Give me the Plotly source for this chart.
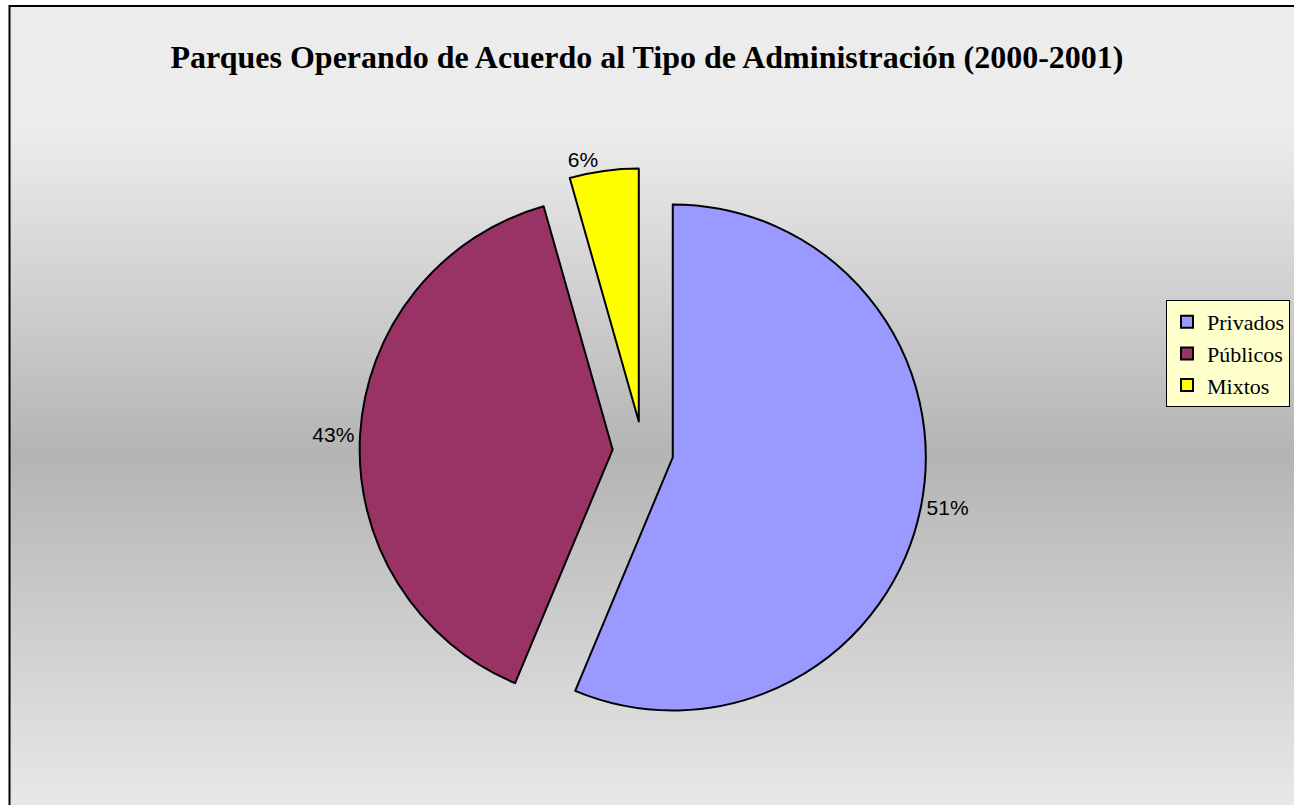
import plotly.graph_objects as go

# datos
tipos = ["Privados", "Públicos", "Mixtos"]
valores = [56.3, 39.3, 4.4]
etiquetas = ["51%", "43%", "6%"]
colores = ["#9999FF", "#993366", "#FFFF00"]

W, H = 1294, 805

fig = go.Figure()

fig.add_trace(go.Pie(
    labels=tipos,
    values=valores,
    text=etiquetas,
    textinfo="text",
    textposition="outside",
    textfont=dict(family="Liberation Sans, Arial", size=21, color="black"),
    marker=dict(colors=colores, line=dict(color="black", width=2)),
    pull=[0.12, 0.12, 0.12],
    sort=False,
    direction="clockwise",
    rotation=0,
    domain=dict(x=[0.2779, 0.7159], y=[0.0871, 0.7912]),
    hoverinfo="label+percent",
))

# fondo degradado (gris claro -> gris medio -> gris claro)
def gris(y):
    if y <= 130:
        g = 236
    elif y <= 455:
        g = 236 + (180 - 236) * (y - 130) / 325
    else:
        g = 180 + (232 - 180) * (y - 455) / 350
    g = int(round(g))
    return f"rgb({g},{g},{g})"

shapes = []
paso = 5
for y in range(6, H, paso):
    shapes.append(dict(
        type="rect", xref="paper", yref="paper", layer="below",
        x0=9.5 / W, x1=1.0, y0=1 - (y + paso) / H, y1=1 - y / H,
        fillcolor=gris(y + paso / 2), line=dict(width=0),
    ))
# marco del grafico
shapes.append(dict(
    type="rect", xref="paper", yref="paper", layer="above",
    x0=9.5 / W, x1=1.02, y0=-0.02, y1=1 - 6 / H,
    line=dict(color="black", width=2), fillcolor="rgba(0,0,0,0)",
))

fig.update_layout(
    width=W, height=H,
    margin=dict(l=0, r=0, t=0, b=0),
    paper_bgcolor="white",
    plot_bgcolor="white",
    shapes=shapes,
    title=dict(
        text="<b>Parques Operando de Acuerdo al Tipo de Administración (2000-2001)</b>",
        x=0.5, xanchor="center", xref="paper",
        y=1 - 57 / H, yanchor="middle", yref="container",
        font=dict(family="Liberation Serif, Times New Roman", size=32, color="black"),
    ),
    legend=dict(
        x=1166 / W, xanchor="left", y=1 - 300 / H, yanchor="top",
        bgcolor="#FFFFCC", bordercolor="black", borderwidth=1,
        font=dict(family="Liberation Serif, Times New Roman", size=22, color="black"),
        traceorder="normal",
    ),
    showlegend=True,
)

# quitar el margen del body para que la figura ocupe la ventana
fig.write_html(
    "out.html",
    config={"displayModeBar": False},
    post_script="document.body.style.margin='0';",
)
